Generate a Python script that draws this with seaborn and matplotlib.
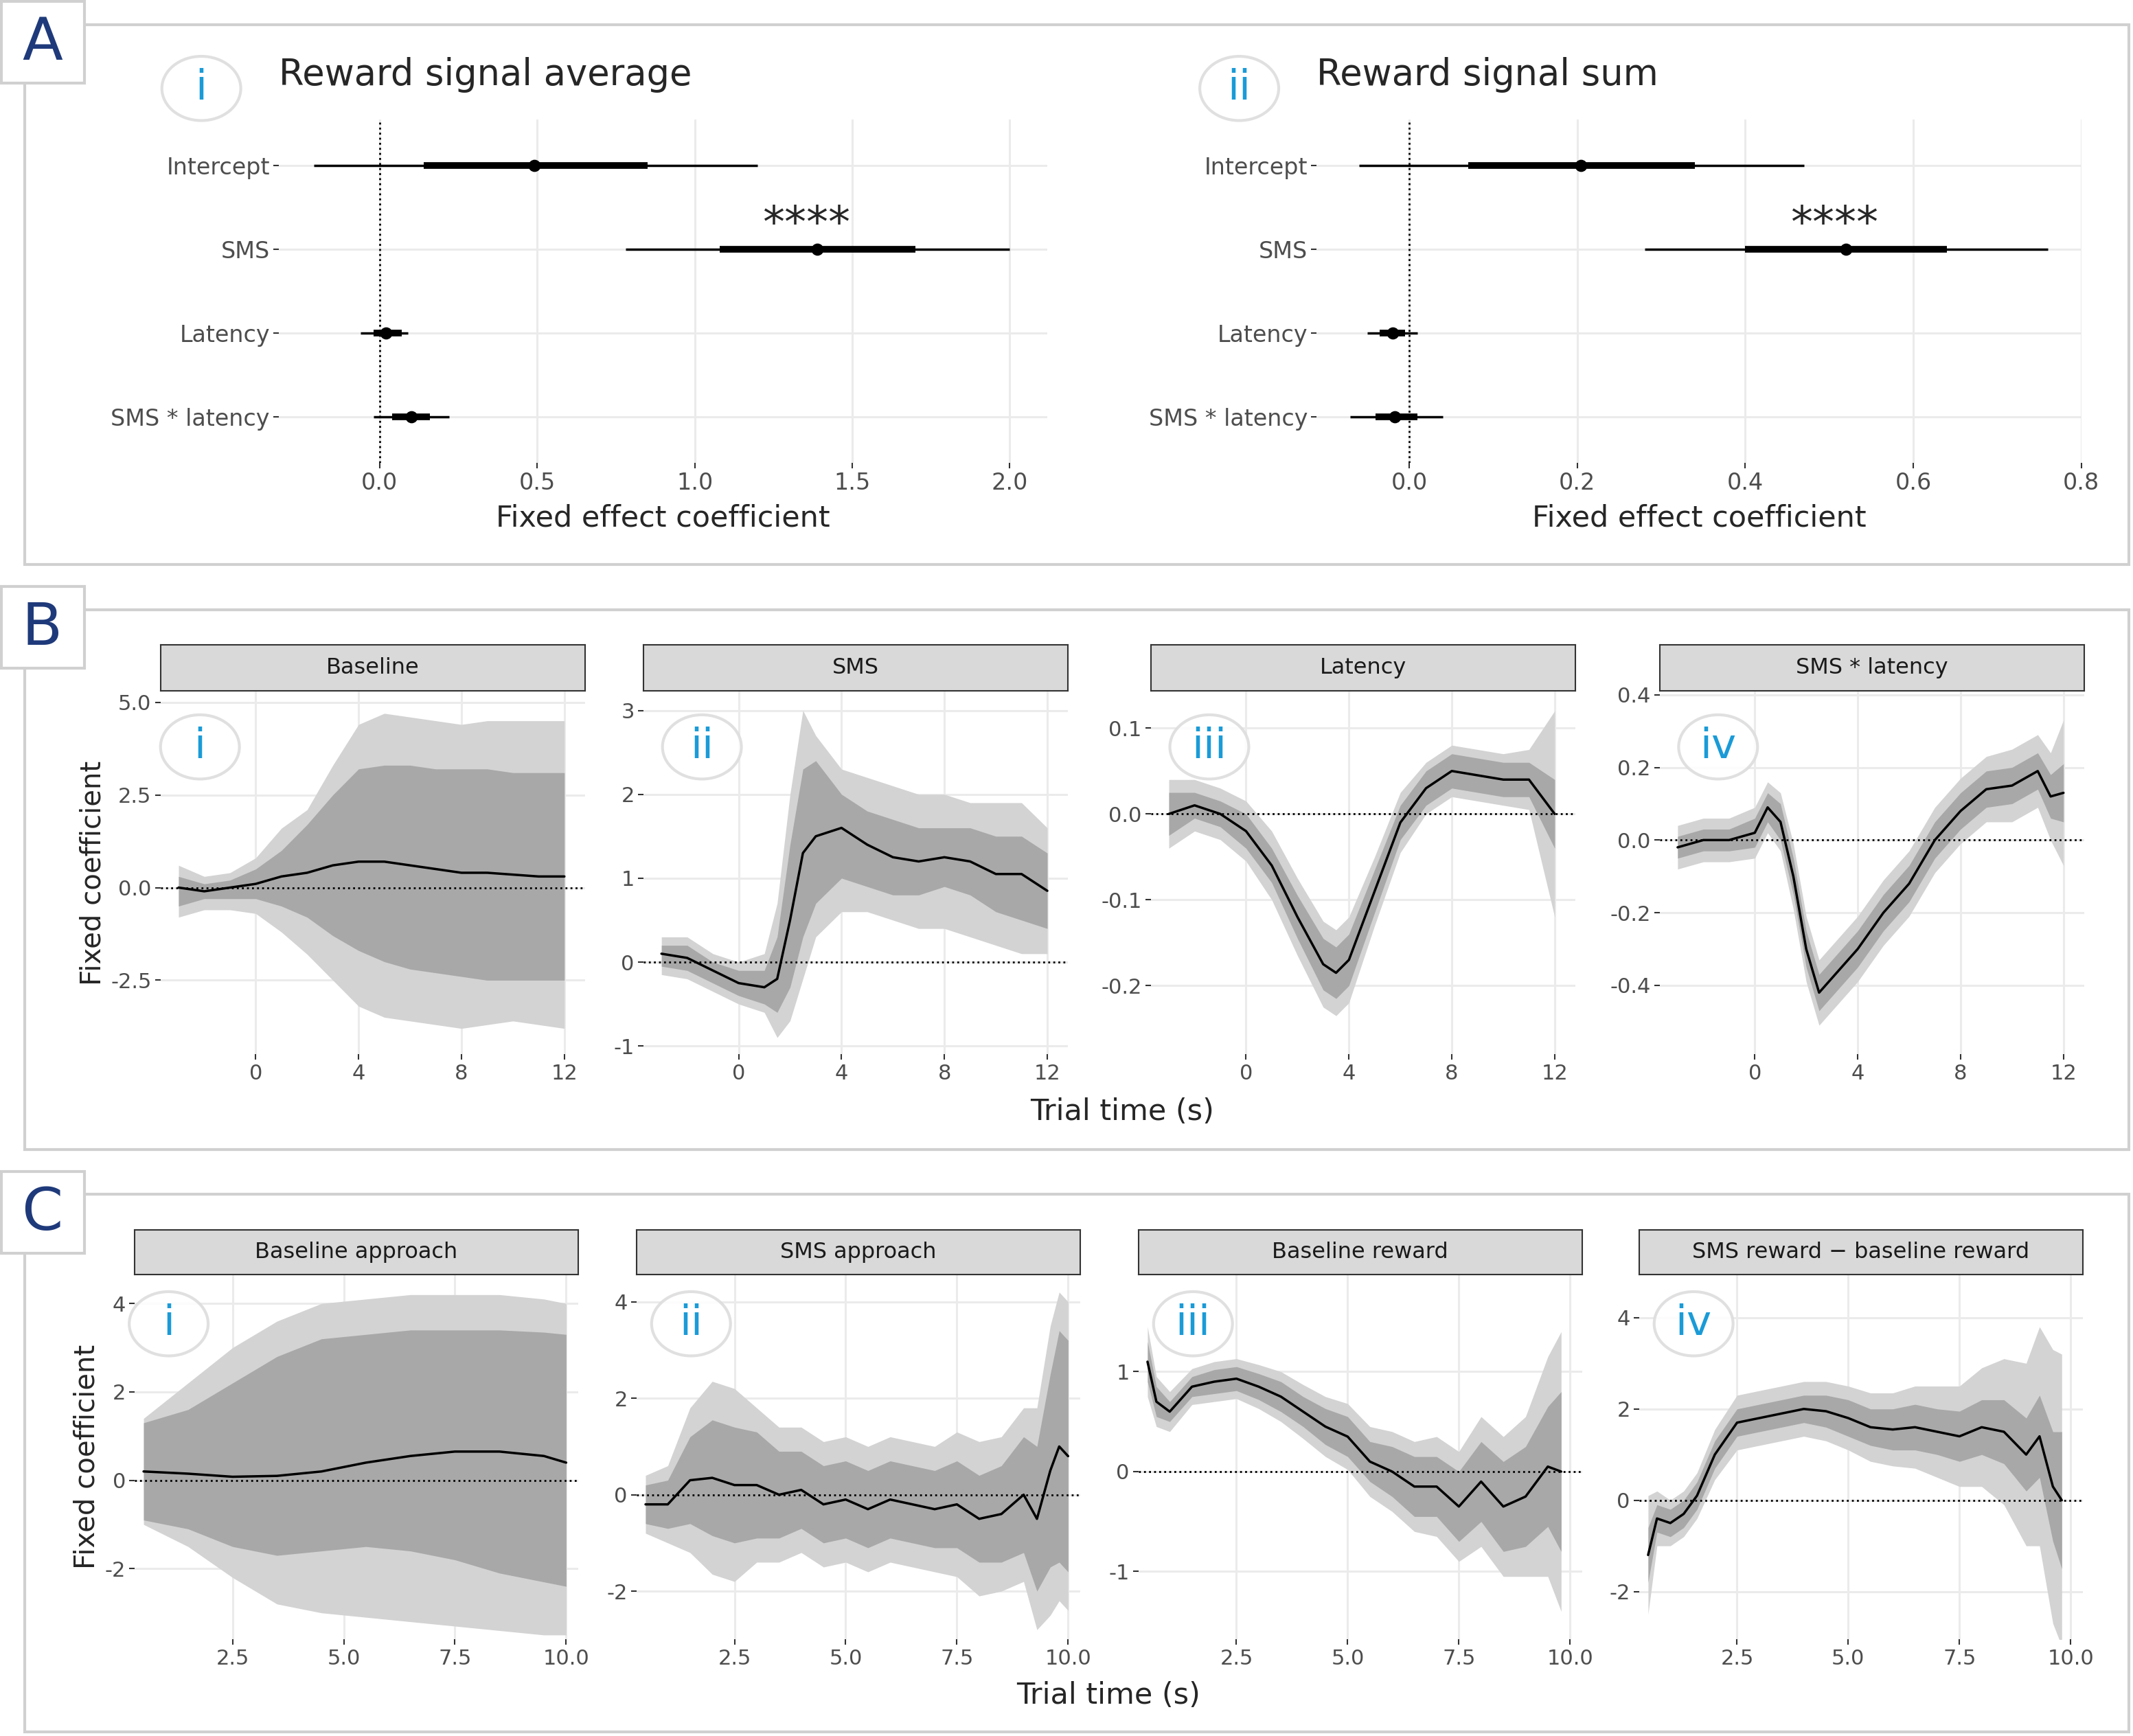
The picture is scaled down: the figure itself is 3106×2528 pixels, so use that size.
import matplotlib
matplotlib.use("Agg")
import matplotlib.pyplot as plt
from matplotlib.patches import Rectangle, Circle
import numpy as np
import seaborn as sns

# ---------------- data ----------------
terms = ["Intercept", "SMS", "Latency", "SMS * latency"]
avg_est = [0.49, 1.39, 0.02, 0.10]
avg_in_lo = [0.14, 1.08, -0.02, 0.04]
avg_in_hi = [0.85, 1.70, 0.07, 0.16]
avg_out_lo = [-0.21, 0.78, -0.06, -0.02]
avg_out_hi = [1.20, 2.00, 0.09, 0.22]
sum_est = [0.204, 0.52, -0.02, -0.017]
sum_in_lo = [0.07, 0.40, -0.035, -0.04]
sum_in_hi = [0.34, 0.64, -0.005, 0.01]
sum_out_lo = [-0.06, 0.28, -0.05, -0.07]
sum_out_hi = [0.47, 0.76, 0.01, 0.04]

# Panel B
bi_x = list(range(-3, 13))
bi_mean = [0, -0.1, 0, 0.1, 0.3, 0.4, 0.6, 0.7, 0.7, 0.6, 0.5, 0.4, 0.4, 0.35, 0.3, 0.3]
bi_dhi = [0.3, 0.1, 0.2, 0.5, 1, 1.7, 2.5, 3.2, 3.3, 3.3, 3.2, 3.2, 3.2, 3.1, 3.1, 3.1]
bi_dlo = [-0.5, -0.3, -0.3, -0.3, -0.5, -0.8, -1.3, -1.7, -2, -2.2, -2.3, -2.4, -2.5, -2.5, -2.5, -2.5]
bi_lhi = [0.6, 0.3, 0.4, 0.8, 1.6, 2.1, 3.3, 4.4, 4.7, 4.6, 4.5, 4.4, 4.5, 4.5, 4.5, 4.5]
bi_llo = [-0.8, -0.6, -0.6, -0.7, -1.2, -1.8, -2.5, -3.2, -3.5, -3.6, -3.7, -3.8, -3.7, -3.6, -3.7, -3.8]

bii_x = [-3, -2, -1, 0, 1, 1.5, 2, 2.5, 3, 4, 5, 6, 7, 8, 9, 10, 11, 12]
bii_mean = [0.1, 0.05, -0.1, -0.25, -0.3, -0.2, 0.5, 1.3, 1.5, 1.6, 1.4, 1.25, 1.2, 1.25, 1.2, 1.05, 1.05, 0.85]
bii_dhi = [0.2, 0.2, 0, -0.1, -0.1, 0.3, 1.4, 2.3, 2.4, 2.0, 1.8, 1.7, 1.6, 1.6, 1.6, 1.5, 1.5, 1.3]
bii_dlo = [-0.05, -0.1, -0.25, -0.4, -0.5, -0.6, -0.3, 0.3, 0.7, 1.0, 0.9, 0.8, 0.8, 0.9, 0.8, 0.6, 0.5, 0.4]
bii_lhi = [0.3, 0.3, 0.1, 0, 0.1, 0.7, 2.0, 3.0, 2.7, 2.3, 2.2, 2.1, 2.0, 2.0, 1.9, 1.9, 1.9, 1.6]
bii_llo = [-0.15, -0.2, -0.35, -0.5, -0.6, -0.9, -0.7, -0.2, 0.3, 0.6, 0.6, 0.5, 0.4, 0.4, 0.3, 0.2, 0.1, 0.1]

biii_x = [-3, -2, -1, 0, 1, 2, 3, 3.5, 4, 5, 6, 7, 8, 9, 10, 11, 12]
biii_mean = [0, 0.01, 0, -0.02, -0.06, -0.12, -0.175, -0.185, -0.17, -0.09, -0.01, 0.03, 0.05, 0.045, 0.04, 0.04, 0.0]
biii_dhw = [0.025, 0.015, 0.015, 0.02, 0.02, 0.025, 0.03, 0.03, 0.03, 0.025, 0.02, 0.02, 0.02, 0.02, 0.02, 0.02, 0.04]
biii_lhw = [0.04, 0.03, 0.03, 0.035, 0.04, 0.045, 0.05, 0.05, 0.05, 0.04, 0.035, 0.03, 0.03, 0.03, 0.03, 0.035, 0.12]

biv_x = [-3, -2, -1, 0, 0.5, 1, 1.5, 2, 2.5, 3, 4, 5, 6, 7, 8, 9, 10, 11, 11.5, 12]
biv_mean = [-0.02, 0.0, 0.0, 0.02, 0.09, 0.05, -0.1, -0.3, -0.42, -0.38, -0.3, -0.2, -0.12, 0.0, 0.08, 0.14, 0.15, 0.19, 0.12, 0.13]
biv_dhw = [0.03, 0.03, 0.03, 0.04, 0.04, 0.05, 0.05, 0.05, 0.05, 0.05, 0.05, 0.05, 0.05, 0.05, 0.05, 0.05, 0.05, 0.05, 0.06, 0.08]
biv_lhw = [0.06, 0.06, 0.06, 0.07, 0.07, 0.08, 0.09, 0.09, 0.09, 0.09, 0.09, 0.09, 0.09, 0.09, 0.09, 0.09, 0.1, 0.1, 0.12, 0.2]

# Panel C
ci_x = [0.5, 1.5, 2.5, 3.5, 4.5, 5.5, 6.5, 7.5, 8.5, 9.5, 10]
ci_mean = [0.2, 0.15, 0.08, 0.1, 0.2, 0.4, 0.55, 0.65, 0.65, 0.55, 0.4]
ci_dhi = [1.3, 1.6, 2.2, 2.8, 3.2, 3.3, 3.4, 3.4, 3.4, 3.35, 3.3]
ci_dlo = [-0.9, -1.1, -1.5, -1.7, -1.6, -1.5, -1.6, -1.8, -2.1, -2.3, -2.4]
ci_lhi = [1.4, 2.2, 3.0, 3.6, 4.0, 4.1, 4.2, 4.2, 4.2, 4.1, 4.0]
ci_llo = [-1.0, -1.5, -2.2, -2.8, -3.0, -3.1, -3.2, -3.3, -3.4, -3.5, -3.5]

cii_x = [0.5, 1, 1.5, 2, 2.5, 3, 3.5, 4, 4.5, 5, 5.5, 6, 6.5, 7, 7.5, 8, 8.5, 9, 9.3, 9.6, 9.8, 10]
cii_mean = [-0.2, -0.2, 0.3, 0.35, 0.2, 0.2, 0.0, 0.1, -0.2, -0.1, -0.3, -0.1, -0.2, -0.3, -0.2, -0.5, -0.4, 0.0, -0.5, 0.5, 1.0, 0.8]
cii_dhw = [0.4, 0.5, 0.9, 1.2, 1.2, 1.1, 0.9, 0.8, 0.8, 0.8, 0.8, 0.8, 0.8, 0.8, 0.9, 0.9, 1.0, 1.2, 1.5, 2.0, 2.4, 2.4]
cii_lhw = [0.6, 0.8, 1.5, 2.0, 2.0, 1.6, 1.4, 1.3, 1.3, 1.3, 1.3, 1.3, 1.3, 1.3, 1.5, 1.6, 1.6, 1.8, 2.3, 3.0, 3.2, 3.2]

ciii_x = [0.5, 0.7, 1, 1.5, 2, 2.5, 3, 3.5, 4, 4.5, 5, 5.5, 6, 6.5, 7, 7.5, 8, 8.5, 9, 9.5, 9.8]
ciii_mean = [1.1, 0.7, 0.6, 0.85, 0.9, 0.93, 0.85, 0.75, 0.6, 0.45, 0.35, 0.1, 0.0, -0.15, -0.15, -0.35, -0.1, -0.35, -0.25, 0.05, 0.0]
ciii_dhw = [0.2, 0.15, 0.1, 0.1, 0.12, 0.12, 0.13, 0.15, 0.15, 0.18, 0.2, 0.2, 0.25, 0.3, 0.3, 0.35, 0.4, 0.45, 0.5, 0.6, 0.8]
ciii_lhw = [0.35, 0.25, 0.2, 0.18, 0.2, 0.2, 0.22, 0.25, 0.27, 0.3, 0.33, 0.35, 0.4, 0.45, 0.5, 0.55, 0.65, 0.7, 0.8, 1.1, 1.4]

civ_x = [0.5, 0.7, 1, 1.3, 1.6, 2, 2.5, 3, 3.5, 4, 4.5, 5, 5.5, 6, 6.5, 7, 7.5, 8, 8.5, 9, 9.3, 9.6, 9.8]
civ_mean = [-1.2, -0.4, -0.5, -0.3, 0.1, 1.0, 1.7, 1.8, 1.9, 2.0, 1.95, 1.8, 1.6, 1.55, 1.6, 1.5, 1.4, 1.6, 1.5, 1.0, 1.4, 0.3, 0.0]
civ_dhw = [0.6, 0.3, 0.3, 0.3, 0.3, 0.3, 0.3, 0.3, 0.3, 0.3, 0.35, 0.4, 0.4, 0.45, 0.5, 0.5, 0.55, 0.6, 0.7, 0.8, 0.9, 1.2, 1.5]
civ_lhw = [1.3, 0.6, 0.5, 0.5, 0.5, 0.55, 0.6, 0.6, 0.6, 0.6, 0.65, 0.7, 0.75, 0.8, 0.9, 1.0, 1.1, 1.3, 1.6, 2.0, 2.4, 3.0, 3.2]

# ---------------- figure ----------------
sns.set_theme(style="whitegrid")
plt.rcParams['font.family'] = ['DejaVu Sans']
W, H = 1568, 1276
fig = plt.figure(figsize=(31.06, 25.28), dpi=100)
BLUE = "#1a9bd7"
DARKBLUE = "#1f3a7a"
GRID = "#ebebeb"


def rect(x0, y0, x1, y1):
    return [x0 / W, 1 - y1 / H, (x1 - x0) / W, (y1 - y0) / H]


def style(ax):
    for s in ax.spines.values():
        s.set_visible(False)
    ax.grid(True, color=GRID, lw=2.2)
    ax.tick_params(axis="both", labelsize=22, labelcolor="#4d4d4d", length=6,
                   color="#333333", width=1.5, left=True, bottom=True)


def panel_box(y0, y1, ly, letter):
    fig.patches.append(Rectangle((18 / W, 1 - y1 / H), (1565 - 18) / W, (y1 - y0) / H,
                                 transform=fig.transFigure, fill=False, ec="#d0d0d0", lw=3))
    fig.patches.append(Rectangle((1 / W, 1 - (ly + 60) / H), 61 / W, 60 / H,
                                 transform=fig.transFigure, fc="white", ec="#d0d0d0", lw=3))
    fig.text(31 / W, 1 - (ly + 31) / H, letter, fontsize=62, color=DARKBLUE,
             ha="center", va="center")


def roman(cx, cy, s):
    fig.patches.append(Circle((cx / W, 1 - cy / H), 29 / W, transform=fig.transFigure,
                              fc="white", ec="#dddddd", lw=3, alpha=0.9))
    fig.text(cx / W, 1 - cy / H, s, fontsize=44, color=BLUE, ha="center", va="center")


panel_box(18, 415, 1, "A")
panel_box(448, 845, 431, "B")
panel_box(878, 1273, 861, "C")

# ---- Panel A ----
forest = [
    (rect(205, 88, 770, 340), avg_est, avg_in_lo, avg_in_hi, avg_out_lo, avg_out_hi,
     (-0.32, 2.12), [0, 0.5, 1.0, 1.5, 2.0], "Reward signal average", "i", 148, 65),
    (rect(968, 88, 1530, 340), sum_est, sum_in_lo, sum_in_hi, sum_out_lo, sum_out_hi,
     (-0.11, 0.80), [0, 0.2, 0.4, 0.6, 0.8], "Reward signal sum", "ii", 911, 65),
]
for r, est, ilo, ihi, olo, ohi, xl, xt, title, rn, cx, cy in forest:
    ax = fig.add_axes(r)
    ypos = np.arange(len(terms))
    ax.hlines(ypos, olo, ohi, color="black", lw=2.5)
    ax.hlines(ypos, ilo, ihi, color="black", lw=7)
    sns.scatterplot(x=est, y=ypos, ax=ax, color="black", s=140, zorder=5, edgecolor="black")
    ax.axvline(0, color="black", ls=":", lw=2)
    ax.set_xlim(*xl)
    ax.set_ylim(3.55, -0.55)
    ax.set_yticks(ypos)
    ax.set_yticklabels(terms)
    ax.set_xticks(xt)
    ax.set_xticklabels([f"{v:.1f}" for v in xt])
    style(ax)
    ax.tick_params(axis="y", labelsize=24)
    ax.tick_params(axis="x", labelsize=24)
    ax.set_xlabel("Fixed effect coefficient", fontsize=31, labelpad=10)
    ax.text(ohi[1] - (ohi[1] - olo[1]) * 0.53, 1 - 0.3, "****", fontsize=46,
            ha="center", va="center")
    fig.text(r[0], 1 - 55 / H, title, fontsize=38, va="center", ha="left")
    roman(cx, cy, rn)

# ---- Panels B and C ----
def facet(r, x, mean, dlo, dhi, llo, lhi, xl, yl, xt, xtl, yt, ytl, strip, rn, cx, cy, strip_h):
    ax = fig.add_axes(r)
    ax.fill_between(x, llo, lhi, color="#d3d3d3", lw=0)
    ax.fill_between(x, dlo, dhi, color="#a8a8a8", lw=0)
    sns.lineplot(x=x, y=mean, ax=ax, color="black", lw=2.5)
    ax.axhline(0, color="black", ls=":", lw=2)
    ax.set_xlim(*xl)
    ax.set_ylim(*yl)
    ax.set_xticks(xt)
    ax.set_xticklabels(xtl)
    ax.set_yticks(yt)
    ax.set_yticklabels(ytl)
    style(ax)
    sa = fig.add_axes([r[0], r[1] + r[3], r[2], strip_h])
    sa.set_xticks([])
    sa.set_yticks([])
    sa.set_facecolor("#d9d9d9")
    for s in sa.spines.values():
        s.set_visible(True)
        s.set_color("#333333")
        s.set_linewidth(1.5)
    sa.text(0.5, 0.5, strip, fontsize=23, ha="center", va="center", color="#1a1a1a")
    roman(cx, cy, rn)
    return ax


def band(m, hw):
    m = np.array(m)
    hw = np.array(hw)
    return m - hw, m + hw


bx = [0, 4, 8, 12]
bxl = ["0", "4", "8", "12"]
sh_b = (508 - 474) / H
bxs = [(118, 430), (473, 785), (846, 1158), (1220, 1532)]
b_specs = [
    (bi_x, bi_mean, bi_dlo, bi_dhi, bi_llo, bi_lhi, (-4.5, 5.3), [-2.5, 0, 2.5, 5.0],
     ["-2.5", "0.0", "2.5", "5.0"], "Baseline", "i"),
    (bii_x, bii_mean, bii_dlo, bii_dhi, bii_llo, bii_lhi, (-1.1, 3.23), [-1, 0, 1, 2, 3],
     ["-1", "0", "1", "2", "3"], "SMS", "ii"),
    (biii_x, biii_mean) + band(biii_mean, biii_dhw) + band(biii_mean, biii_lhw) +
    ((-0.28, 0.143), [-0.2, -0.1, 0.0, 0.1], ["-0.2", "-0.1", "0.0", "0.1"], "Latency", "iii"),
    (biv_x, biv_mean) + band(biv_mean, biv_dhw) + band(biv_mean, biv_lhw) +
    ((-0.59, 0.41), [-0.4, -0.2, 0.0, 0.2, 0.4], ["-0.4", "-0.2", "0.0", "0.2", "0.4"],
     "SMS * latency", "iv"),
]
for (x0, x1), sp in zip(bxs, b_specs):
    x, m, dlo, dhi, llo, lhi, yl, yt, ytl, strip, rn = sp
    ax = facet(rect(x0, 508, x1, 775), x, m, dlo, dhi, llo, lhi, (-3.7, 12.8), yl,
               bx, bxl, yt, ytl, strip, rn, x0 + 18 + (11 if rn == "i" else 25), 549, sh_b)
    if rn == "i":
        ax.set_ylabel("Fixed coefficient", fontsize=29)
fig.text(825 / W, 1 - 817 / H, "Trial time (s)", fontsize=31, ha="center", va="center")

cx_ticks = [2.5, 5.0, 7.5, 10.0]
cxl = ["2.5", "5.0", "7.5", "10.0"]
sh_c = (937 - 904) / H
cxs = [(99, 425), (468, 794), (837, 1163), (1205, 1531)]
c_specs = [
    (ci_x, ci_mean, ci_dlo, ci_dhi, ci_llo, ci_lhi, (-3.6, 4.65), [-2, 0, 2, 4],
     ["-2", "0", "2", "4"], "Baseline approach", "i"),
    (cii_x, cii_mean) + band(cii_mean, cii_dhw) + band(cii_mean, cii_lhw) +
    ((-3.0, 4.56), [-2, 0, 2, 4], ["-2", "0", "2", "4"], "SMS approach", "ii"),
    (ciii_x, ciii_mean) + band(ciii_mean, ciii_dhw) + band(ciii_mean, ciii_lhw) +
    ((-1.68, 1.97), [-1, 0, 1], ["-1", "0", "1"], "Baseline reward", "iii"),
    (civ_x, civ_mean) + band(civ_mean, civ_dhw) + band(civ_mean, civ_lhw) +
    ((-3.05, 4.94), [-2, 0, 2, 4], ["-2", "0", "2", "4"],
     "SMS reward \u2212 baseline reward", "iv"),
]
for (x0, x1), sp in zip(cxs, c_specs):
    x, m, dlo, dhi, llo, lhi, yl, yt, ytl, strip, rn = sp
    ax = facet(rect(x0, 937, x1, 1205), x, m, dlo, dhi, llo, lhi, (0.3, 10.27), yl,
               cx_ticks, cxl, yt, ytl, strip, rn, x0 + 25 + (0 if rn == "i" else 15), 973, sh_c)
    if rn == "i":
        ax.set_ylabel("Fixed coefficient", fontsize=29)
fig.text(815 / W, 1 - 1246 / H, "Trial time (s)", fontsize=31, ha="center", va="center")

fig.savefig("out.png", dpi=100, facecolor="white")
